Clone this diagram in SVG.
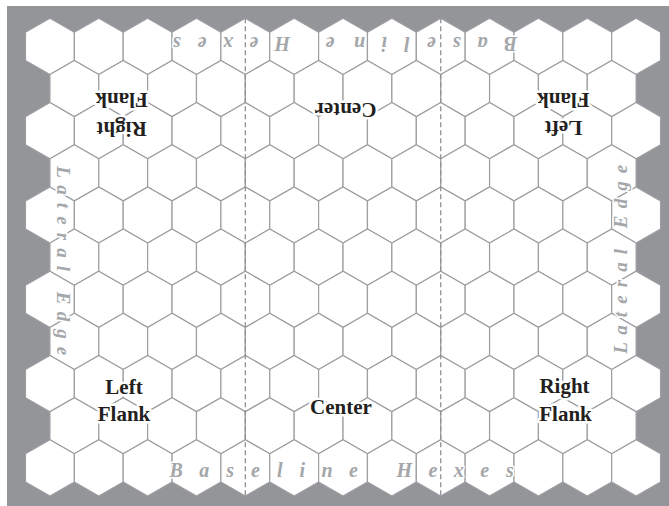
<svg xmlns="http://www.w3.org/2000/svg" xmlns:xlink="http://www.w3.org/1999/xlink" width="669" height="506" viewBox="0 0 669 506">
<style>
.hex{fill:#fff;stroke:#9c9ea1;stroke-width:1.2}
.div{stroke:#8e9093;stroke-width:1.3;stroke-dasharray:5 3;fill:none}
.lbl{font-family:"Liberation Serif",serif;font-weight:bold;font-size:21px;fill:#231f20;text-anchor:middle;stroke:#fff;stroke-width:5;stroke-linejoin:round;paint-order:stroke}
.edge{font-family:"Liberation Serif",serif;font-style:italic;font-weight:bold;font-size:20px;fill:#a4a6a9;text-anchor:middle;stroke:#fff;stroke-width:3;stroke-linejoin:round;paint-order:stroke}
.edgev{font-family:"Liberation Serif",serif;font-style:italic;font-weight:bold;font-size:19px;fill:#a4a6a9;text-anchor:middle;stroke:#fff;stroke-width:3;stroke-linejoin:round;paint-order:stroke}
</style>
<defs>
<polygon id="hx" class="hex" points="0,-28.1 24.425,-14.05 24.425,14.05 0,28.1 -24.425,14.05 -24.425,-14.05"/>
<g id="rowL">
<use href="#hx" x="49.93"/><use href="#hx" x="98.78"/><use href="#hx" x="147.63"/><use href="#hx" x="196.48"/><use href="#hx" x="245.33"/><use href="#hx" x="294.18"/><use href="#hx" x="343.03"/><use href="#hx" x="391.88"/><use href="#hx" x="440.73"/><use href="#hx" x="489.58"/><use href="#hx" x="538.43"/><use href="#hx" x="587.28"/><use href="#hx" x="636.13"/>
</g>
<g id="rowS">
<use href="#hx" x="74.35"/><use href="#hx" x="123.2"/><use href="#hx" x="172.05"/><use href="#hx" x="220.9"/><use href="#hx" x="269.75"/><use href="#hx" x="318.6"/><use href="#hx" x="367.45"/><use href="#hx" x="416.3"/><use href="#hx" x="465.15"/><use href="#hx" x="514"/><use href="#hx" x="562.85"/><use href="#hx" x="611.7"/>
</g>
</defs>
<rect x="0" y="0" width="669" height="506" fill="#ffffff"/>
<rect id="board-bg" x="7" y="6" width="662" height="500" fill="#939598"/>
<g id="hexes">
<use href="#rowL" y="46.4"/>
<use href="#rowS" y="88.55"/>
<use href="#rowL" y="130.7"/>
<use href="#rowS" y="172.85"/>
<use href="#rowL" y="215"/>
<use href="#rowS" y="257.15"/>
<use href="#rowL" y="299.3"/>
<use href="#rowS" y="341.45"/>
<use href="#rowL" y="383.6"/>
<use href="#rowS" y="425.75"/>
<use href="#rowL" y="467.9"/>
</g>
<g id="connectors">
<line class="div" x1="245.33" y1="18.3" x2="245.33" y2="496"/>
<line class="div" x1="440.73" y1="18.3" x2="440.73" y2="496"/>
</g>
<g id="edge-labels">
<text class="edge" x="176.1 204.2 230.1 255.5 279.7 302.3 327.1 353.5 377.5 404.2 432.9 458.8 484.7 510" y="477">Baseline Hexes</text>
<text class="edge" transform="rotate(180)" x="-510.5 -482.4 -456.5 -431.2 -406.9 -384.3 -359.5 -330 -309.1 -282.4 -253.8 -227.9 -202 -176.6" y="-36.5">Baseline Hexes</text>
<text class="edgev" transform="rotate(90)" x="172 190 205.5 220.5 236.5 253 268.5 282 298 316.5 334 351" y="-57">Lateral Edge</text>
<text class="edgev" transform="rotate(-90)" x="-348 -330 -314.5 -299.5 -283.5 -267 -251.5 -238 -222 -203.5 -186 -169" y="627">Lateral Edge</text>
</g>
<g id="bottom-left-flank">
<text class="lbl" x="124" y="394.3">Left</text>
<text class="lbl" x="124" y="421">Flank</text>
</g>
<g id="bottom-center">
<text class="lbl" x="341" y="414">Center</text>
</g>
<g id="bottom-right-flank">
<text class="lbl" x="564.5" y="393.3">Right</text>
<text class="lbl" x="565.5" y="420.7">Flank</text>
</g>
<g id="top-right-flank" transform="rotate(180)">
<text class="lbl" x="-121.7" y="-121.5">Right</text>
<text class="lbl" x="-121.6" y="-93">Flank</text>
</g>
<g id="top-center" transform="rotate(180)">
<text class="lbl" x="-345.5" y="-103">Center</text>
</g>
<g id="top-left-flank" transform="rotate(180)">
<text class="lbl" x="-563.5" y="-121">Left</text>
<text class="lbl" x="-563.3" y="-93">Flank</text>
</g>
</svg>
